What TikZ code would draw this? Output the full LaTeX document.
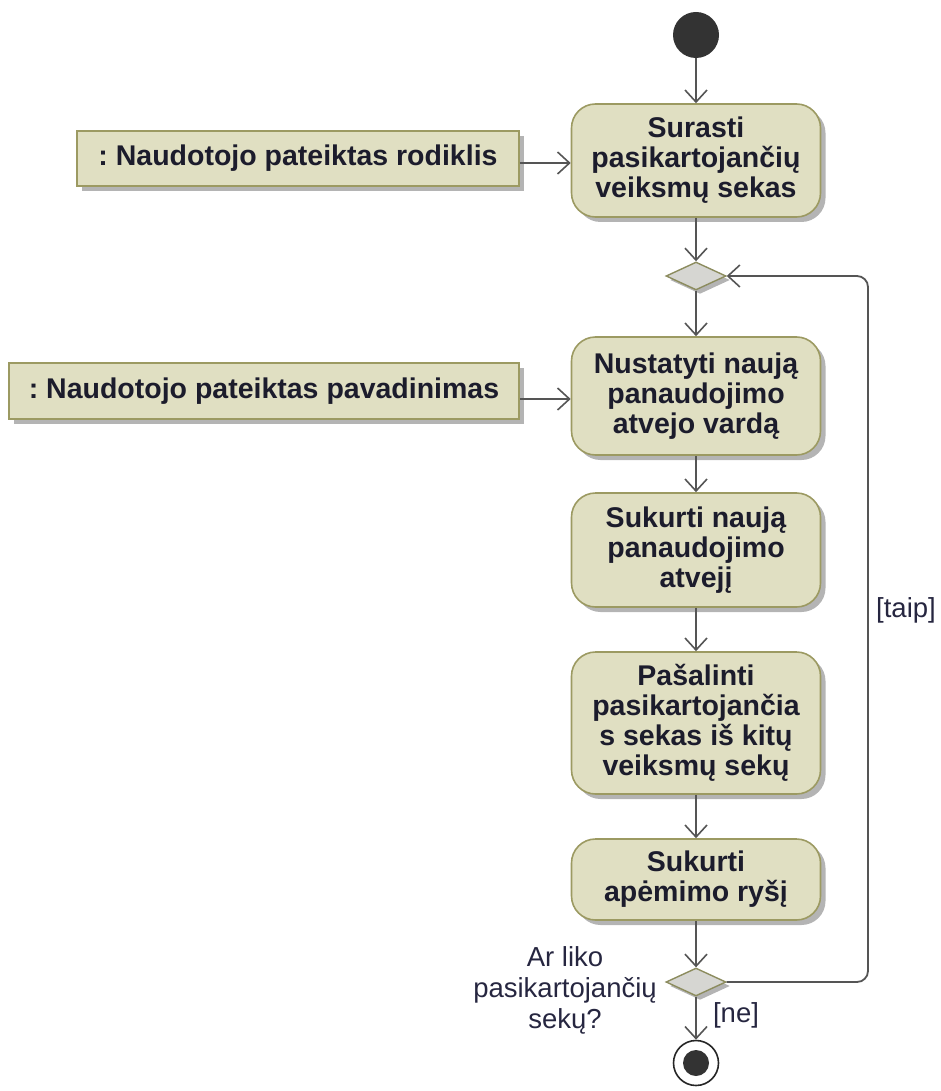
\documentclass[tikz,border=0pt]{standalone}
\usepackage{fontspec}
\setmainfont{Liberation Sans}
\usetikzlibrary{arrows.meta,shapes.geometric,shadows}
\frenchspacing
\definecolor{actfill}{HTML}{E0DFC2}
\definecolor{actline}{HTML}{9C9A62}
\definecolor{decfill}{HTML}{D6D6D2}
\definecolor{decline}{HTML}{8C8C5E}
\definecolor{flowline}{HTML}{555555}
\definecolor{txt}{HTML}{1C1C2C}
\definecolor{lbl}{HTML}{262640}
\definecolor{shade}{HTML}{B4B4B4}
\tikzset{
  boxshadow/.style={general shadow={shadow xshift=5pt,shadow yshift=-5pt,fill=shade}},
  action/.style={draw=actline,line width=1.6pt,fill=actfill,rounded corners=24pt,
    minimum width=249pt,inner sep=0pt,align=center,text=txt,boxshadow,
    font=\fontsize{28.5}{30}\selectfont\bfseries},
  objnode/.style={draw=actline,line width=1.6pt,fill=actfill,inner sep=0pt,
    minimum height=55pt,text=txt,boxshadow,
    font=\fontsize{28.5}{30}\selectfont\bfseries},
  decision/.style={diamond,draw=decline,line width=1.4pt,fill=decfill,
    minimum width=60pt,minimum height=28pt,inner sep=0pt,aspect=2.14,
    general shadow={shadow xshift=4pt,shadow yshift=-4pt,fill=shade}},
  startnode/.style={circle,fill=black!80,minimum size=46pt,inner sep=0pt},
  endnode/.style={circle,draw=black!85,line width=1.6pt,fill=white,minimum size=45pt,inner sep=0pt},
  flow/.style={draw=flowline,line width=1.8pt,-{Straight Barb[length=12pt,width=22pt,line width=1.6pt]}},
  guard/.style={text=lbl,font=\fontsize{27.5}{31}\selectfont,align=center,inner sep=0pt}
}
\begin{document}
\begin{tikzpicture}[x=1pt,y=-1pt]
\useasboundingbox (0,0) rectangle (941,1091);

% initial and final nodes
\node[startnode] (start) at (696,35) {};
\node[endnode] (finish) at (696,1063) {};
\fill[black!80] (finish.center) circle (13pt);

% actions
\node[action,minimum height=113pt] (a1) at (696,160.5) {Surasti\\pasikartojančių\\veiksmų sekas};
\node[action,minimum height=118pt] (a2) at (696,396) {Nustatyti naują\\panaudojimo\\atvejo vardą};
\node[action,minimum height=114pt] (a3) at (696,550) {Sukurti naują\\panaudojimo\\atvejį};
\node[action,minimum height=142pt] (a4) at (696,723) {Pašalinti\\pasikartojančia\\s sekas iš kitų\\veiksmų sekų};
\node[action,minimum height=81pt] (a5) at (696,879.5) {Sukurti\\apėmimo ryšį};

% decisions
\node[decision] (d1) at (696,276) {};
\node[decision] (d2) at (696,982) {};

% input objects
\node[objnode,minimum width=442pt] (o1) at (298,158.5) {\raisebox{5pt}{: Naudotojo pateiktas rodiklis}};
\node[objnode,minimum width=510pt,minimum height=56pt] (o2) at (264,391) {\raisebox{5pt}{: Naudotojo pateiktas pavadinimas}};

% loop-back corners
\coordinate (loopB) at (868,982);
\coordinate (loopT) at (868,276);

% control flows
\draw[flow] (start) -- (a1);
\draw[flow] (a1) -- (d1);
\draw[flow] (d1) -- (a2);
\draw[flow] (a2) -- (a3);
\draw[flow] (a3) -- (a4);
\draw[flow] (a4) -- (a5);
\draw[flow] (a5) -- (d2);
\draw[flow] (d2) -- (finish);
\draw[flow,rounded corners=11pt] (d2.east) -- (loopB) -- (loopT) -- (d1.east);

% object flows
\draw[flow] ([yshift=-4.5pt]o1.east) -- ([yshift=-4.5pt]o1.east -| a1.west);
\draw[flow] ([yshift=-8pt]o2.east) -- ([yshift=-8pt]o2.east -| a2.west);

% guards and decision label
\node[guard] (gtaip) at (906,610) {[taip]};
\node[guard] (gne) at (736,1015) {[ne]};
\node[guard] (q) at (565,990) {Ar liko\\pasikartojančių\\sekų?};
\end{tikzpicture}
\end{document}
